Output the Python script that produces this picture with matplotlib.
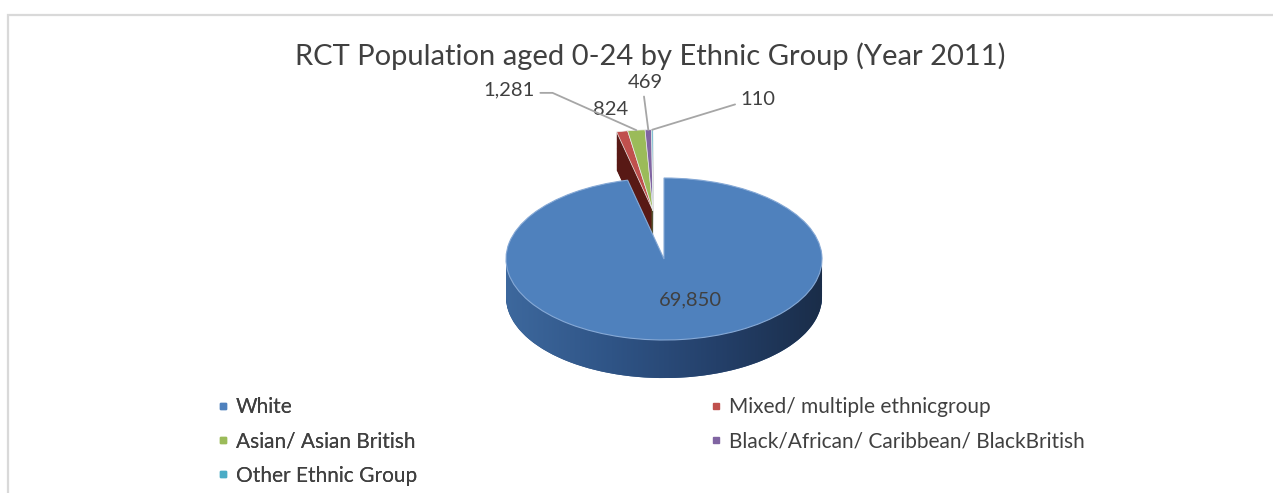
import matplotlib.pyplot as plt
import numpy as np
from matplotlib.colors import LinearSegmentedColormap
from matplotlib.lines import Line2D
from matplotlib.patches import Polygon, Rectangle

plt.rcParams['font.family'] = ['Lato', 'DejaVu Sans']

# data
groups = ['White', 'Mixed/ multiple ethnicgroup', 'Asian/ Asian British',
          'Black/African/ Caribbean/ BlackBritish', 'Other Ethnic Group']
population = [69850, 824, 1281, 469, 110]
top_colors = ['#4f81bd', '#c0504d', '#9bbb59', '#8064a2', '#4bacc6']
side_colors = ['#2f5587', '#581915', '#627d30', '#4a3a66', '#2b7487']
title = 'RCT Population aged 0-24 by Ethnic Group (Year 2011)'

W, H = 1273, 493
fig = plt.figure(figsize=(W / 100, H / 100), dpi=100)

# light grey chart frame (right and bottom edges fall outside the picture)
fig.add_artist(Rectangle((8 / W, -0.1), 1.1, 1.1 - 15 / H, transform=fig.transFigure,
                         fill=False, edgecolor='#d9d9d9', linewidth=1.6))

fig.text(650 / W, 1 - 65 / H, title, ha='center', va='baseline', fontsize=21, color='#404040')

# pie axes stretched so the pie becomes a tilted ellipse
ax = fig.add_axes([348 / W, 1 - 421 / H, 632 / W, 324 / H])

depth = 0.47
n_layers = 45
pull_out = 0.6   # the small groups are pulled out together as one block
pie_kw = dict(startangle=90, counterclock=False, wedgeprops={'linewidth': 0})

share = np.array(population) / sum(population)
gap_mid = np.deg2rad(90 + 360 * share[1:].sum() / 2)
ox, oy = pull_out * np.cos(gap_mid), pull_out * np.sin(gap_mid)


def draw_pie(colors, dy, z_big, z_small):
    big, _ = ax.pie(population, colors=colors, center=(0, dy), **pie_kw)
    small, _ = ax.pie(population, colors=colors, center=(ox, oy + dy), **pie_kw)
    for i in range(len(population)):
        if i == 0:
            small[i].set_visible(False)
            big[i].set_zorder(z_big)
        else:
            big[i].set_visible(False)
            small[i].set_zorder(z_small)
    return big[0], small[1:]


# side walls: the same pie stacked downwards in darker colours
for k in range(n_layers, 0, -1):
    draw_pie(side_colors, -depth * k / n_layers, 3, 1)

big_top, small_tops = draw_pie(top_colors, 0, 4, 2)
big_top.set_edgecolor('#86a9d6')
big_top.set_linewidth(0.8)
for w in small_tops:
    w.set_edgecolor('#eeeeee')
    w.set_linewidth(0.5)

# horizontal shading on the big slice wall
t = np.linspace(np.pi, 2 * np.pi, 200)
rim = np.column_stack([np.cos(t), -depth + np.sin(t)])
clip = Polygon(np.vstack([rim, [[1, 0], [-1, 0]]]), closed=True, transform=ax.transData)
shade = LinearSegmentedColormap.from_list('side', ['#3d689d', '#2f5486', '#24406a', '#1a2d49'])
img = ax.imshow(np.linspace(0, 1, 256)[None, :], extent=(-1, 1, -depth - 1, 0),
                cmap=shade, aspect='auto', zorder=3.5, interpolation='bilinear')
img.set_clip_path(clip)

ax.set_aspect('auto')
ax.set_xlim(-2, 2)
ax.set_ylim(-2, 2)
ax.axis('off')

label_kw = dict(fontsize=14.5, color='#404040', ha='center', va='baseline')

ax.text(0.17, -0.568, f'{population[0]:,}', zorder=6, **label_kw)


def rim_point(w):
    a = np.deg2rad((w.theta1 + w.theta2) / 2)
    return w.center[0] + w.r * np.cos(a), w.center[1] + w.r * np.sin(a)


line_kw = dict(arrowstyle='-', color='#a6a6a6', linewidth=1.3, shrinkA=2, shrinkB=0)

# Mixed: label sits right above the slice, no leader
ax.annotate(f'{population[1]:,}', rim_point(small_tops[0]), xytext=(-0.34, 1.778),
            annotation_clip=False, **label_kw)
# Asian
ax.annotate(f'{population[2]:,}', rim_point(small_tops[1]), xytext=(-0.98, 2.025),
            annotation_clip=False,
            arrowprops=dict(connectionstyle='angle,angleA=0,angleB=-24,rad=0',
                            relpos=(1.0, 0.3), **line_kw), **label_kw)
# Black
ax.annotate(f'{population[3]:,}', rim_point(small_tops[2]), xytext=(-0.12, 2.111),
            annotation_clip=False,
            arrowprops=dict(relpos=(0.45, 0.0), **line_kw), **label_kw)
# Other
ax.annotate(f'{population[4]:,}', rim_point(small_tops[3]), xytext=(0.595, 1.901),
            annotation_clip=False,
            arrowprops=dict(connectionstyle='angle,angleA=0,angleB=17,rad=0',
                            relpos=(0.0, 0.3), **line_kw), **label_kw)

# legend laid out row by row in two columns
handles = [Line2D([], [], linestyle='none', marker='s', markersize=4.5,
                  markerfacecolor=c, markeredgecolor=c) for c in top_colors]
leg_kw = dict(loc='upper left', frameon=False, fontsize=15, labelcolor='#404040',
              handlelength=0.7, handletextpad=0.26, labelspacing=0.69,
              borderpad=0, borderaxespad=0)
left = fig.legend([handles[i] for i in (0, 2, 4)], [groups[i] for i in (0, 2, 4)],
                  bbox_to_anchor=(216 / W, 1 - 397 / H), **leg_kw)
fig.add_artist(left)
fig.legend([handles[i] for i in (1, 3)], [groups[i] for i in (1, 3)],
           bbox_to_anchor=(709 / W, 1 - 397 / H), **leg_kw)

fig.savefig('out.png', dpi=100)
